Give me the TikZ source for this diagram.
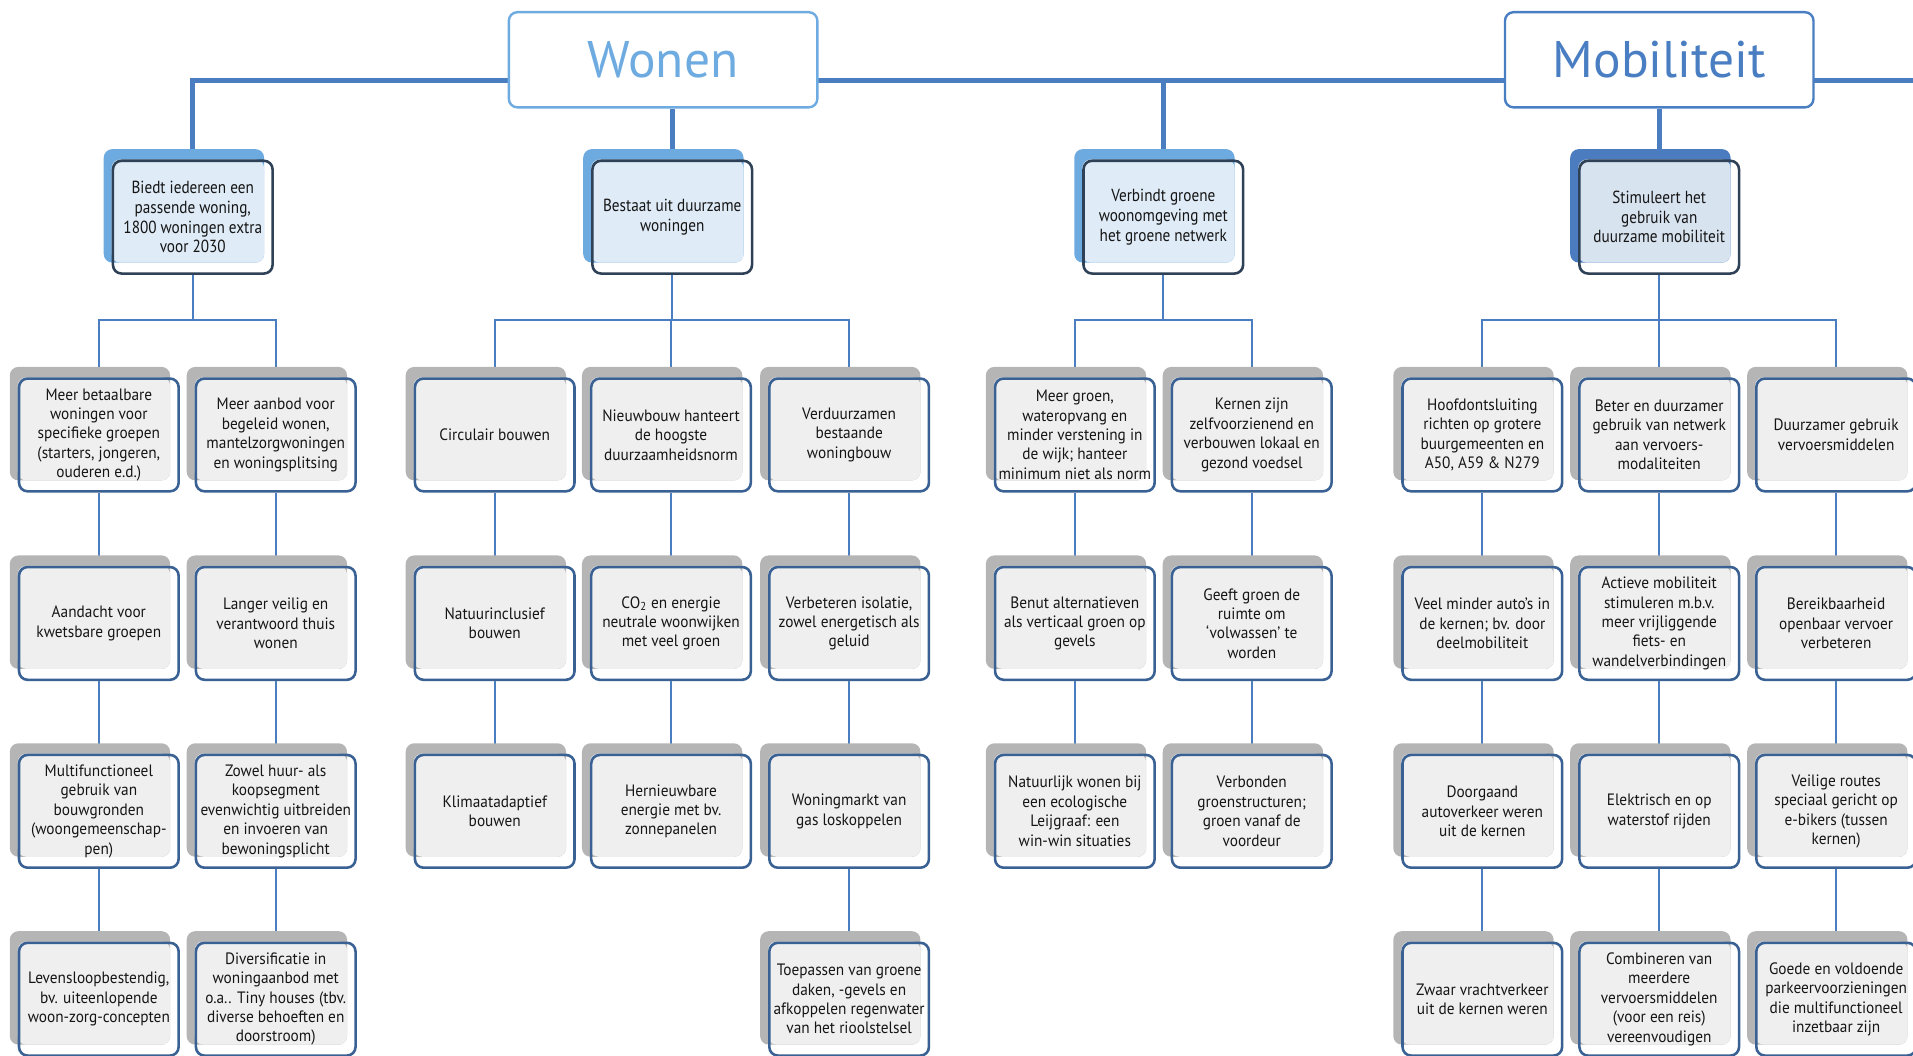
\documentclass[tikz,border=0pt]{standalone}
\usepackage{fontspec}
\setmainfont{PT Sans}
\newfontfamily\bladfont[FakeStretch=0.93]{PT Sans}
\newfontfamily\doelfont[FakeStretch=0.87]{PT Sans}
\usetikzlibrary{backgrounds}

\definecolor{lijnblauw}{HTML}{4A7EC0}
\definecolor{wonenblauw}{HTML}{6EABE0}
\definecolor{mobblauw}{HTML}{4A7EC2}
\definecolor{doelrand}{HTML}{2F4157}
\definecolor{bladrand}{HTML}{3A6194}
\definecolor{tabblauw}{HTML}{6DAADF}
\definecolor{tabdonker}{HTML}{4A7CBF}
\definecolor{vullicht}{HTML}{DFEBF6}
\definecolor{vulmob}{HTML}{D8E3F0}
\definecolor{tabgrijs}{HTML}{B5B5B5}
\definecolor{vulgrijs}{HTML}{EFEFEF}
\definecolor{tekst}{HTML}{151515}

\tikzset{
  titel/.style={draw, line width=1.4pt, rounded corners=5pt, fill=white,
    minimum width=6.32cm, minimum height=1.95cm, font=\fontsize{30}{30}\selectfont},
  doel/.style={draw=doelrand, line width=1.5pt, rounded corners=5pt,
    minimum width=3.27cm, minimum height=2.31cm, align=center, inner sep=1pt,
    text=tekst, font=\doelfont\fontsize{10.2}{11.4}\selectfont},
  blad/.style={doel, draw=bladrand, font=\bladfont\fontsize{9.6}{11.3}\selectfont},
  stam/.style={lijnblauw, line width=2.8pt},
  tak/.style={lijnblauw, line width=1.1pt},
}

% kaart: achterste tab + vulling onder een knoop
\newcommand\kaart[3]{%
  \fill[white, opacity=.8, rounded corners=5pt] (#1.north west) rectangle (#1.south east);
  \fill[#2, rounded corners=5pt] ([shift={(-6.5,-8.5)}]#1.north west) rectangle ([shift={(-8,-10)}]#1.south east);
  \fill[#3, rounded corners=5pt] (#1.north west) rectangle ([shift={(-8,-10)}]#1.south east);
}

\begin{document}
\begin{tikzpicture}[x=0.025cm, y=-0.025cm]
    \useasboundingbox (0,0) rectangle (1568,865);

    \node[titel, draw=wonenblauw, text=wonenblauw] (wonen) at (543.5,49) {Wonen};
    \node[titel, draw=mobblauw, text=mobblauw] (mobiliteit) at (1360,49) {Mobiliteit};

    \node[doel] (doel1) at (158,178) {Biedt iedereen een\\passende woning,\\1800 woningen extra\\voor 2030};
    \node[doel] (doel2) at (551,178) {Bestaat uit duurzame\\woningen};
    \node[doel] (doel3) at (953.5,178) {Verbindt groene\\woonomgeving met\\het groene netwerk};
    \node[doel] (doel4) at (1360,178) {Stimuleert het\\gebruik van\\duurzame mobiliteit};

    % Wonen
    \node[blad] (a1) at (81,356.5) {Meer betaalbare\\woningen voor\\specifieke groepen\\(starters, jongeren,\\ouderen e.d.)};
    \node[blad] (a2) at (81,511) {Aandacht voor\\kwetsbare groepen};
    \node[blad] (a3) at (81,665) {Multifunctioneel\\gebruik van\\bouwgronden\\(woongemeenschap-\\pen)};
    \node[blad] (a4) at (81,819) {Levensloopbestendig,\\bv. uiteenlopende\\woon-zorg-concepten};
    \node[blad] (b1) at (226,356.5) {Meer aanbod voor\\begeleid wonen,\\mantelzorgwoningen\\en woningsplitsing};
    \node[blad] (b2) at (226,511) {Langer veilig en\\verantwoord thuis\\wonen};
    \node[blad] (b3) at (226,665) {Zowel huur- als\\koopsegment\\evenwichtig uitbreiden\\en invoeren van\\bewoningsplicht};
    \node[blad] (b4) at (226,819) {Diversificatie in\\woningaanbod met\\o.a.. Tiny houses (tbv.\\diverse behoeften en\\doorstroom)};

    \node[blad] (c1) at (405.5,356.5) {Circulair bouwen};
    \node[blad] (c2) at (405.5,511) {Natuurinclusief\\bouwen};
    \node[blad] (c3) at (405.5,665) {Klimaatadaptief\\bouwen};
    \node[blad] (d1) at (550,356.5) {Nieuwbouw hanteert\\de hoogste\\duurzaamheidsnorm};
    \node[blad] (d2) at (550,511) {CO\textsubscript{2} en energie\\neutrale woonwijken\\met veel groen};
    \node[blad] (d3) at (550,665) {Hernieuwbare\\energie met bv.\\zonnepanelen};
    \node[blad] (e1) at (696,356.5) {Verduurzamen\\bestaande\\woningbouw};
    \node[blad] (e2) at (696,511) {Verbeteren isolatie,\\zowel energetisch als\\geluid};
    \node[blad] (e3) at (696,665) {Woningmarkt van\\gas loskoppelen};
    \node[blad] (e4) at (696,819) {Toepassen van groene\\daken, -gevels en\\afkoppelen regenwater\\van het rioolstelsel};

    \node[blad] (f1) at (881,356.5) {Meer groen,\\wateropvang en\\minder verstening in\\de wijk; hanteer\\minimum niet als norm};
    \node[blad] (f2) at (881,511) {Benut alternatieven\\als verticaal groen op\\gevels};
    \node[blad] (f3) at (881,665) {Natuurlijk wonen bij\\een ecologische\\Leijgraaf: een\\win-win situaties};
    \node[blad] (g1) at (1026,356.5) {Kernen zijn\\zelfvoorzienend en\\verbouwen lokaal en\\gezond voedsel};
    \node[blad] (g2) at (1026,511) {Geeft groen de\\ruimte om\\‘volwassen’ te\\worden};
    \node[blad] (g3) at (1026,665) {Verbonden\\groenstructuren;\\groen vanaf de\\voordeur};

    % Mobiliteit
    \node[blad] (h1) at (1215,356.5) {Hoofdontsluiting\\richten op grotere\\buurgemeenten en\\A50, A59 \& N279};
    \node[blad] (h2) at (1215,511) {Veel minder auto’s in\\de kernen; bv. door\\deelmobiliteit};
    \node[blad] (h3) at (1215,665) {Doorgaand\\autoverkeer weren\\uit de kernen};
    \node[blad] (h4) at (1215,819) {Zwaar vrachtverkeer\\uit de kernen weren};
    \node[blad] (i1) at (1360,356.5) {Beter en duurzamer\\gebruik van netwerk\\aan vervoers-\\modaliteiten};
    \node[blad] (i2) at (1360,511) {Actieve mobiliteit\\stimuleren m.b.v.\\meer vrijliggende\\fiets- en\\wandelverbindingen};
    \node[blad] (i3) at (1360,665) {Elektrisch en op\\waterstof rijden};
    \node[blad] (i4) at (1360,819) {Combineren van\\meerdere\\vervoersmiddelen\\(voor een reis)\\vereenvoudigen};
    \node[blad] (j1) at (1505,356.5) {Duurzamer gebruik\\vervoersmiddelen};
    \node[blad] (j2) at (1505,511) {Bereikbaarheid\\openbaar vervoer\\verbeteren};
    \node[blad] (j3) at (1505,665) {Veilige routes\\speciaal gericht op\\e-bikers (tussen\\kernen)};
    \node[blad] (j4) at (1505,819) {Goede en voldoende\\parkeervoorzieningen\\die multifunctioneel\\inzetbaar zijn};

    \coordinate (stamlijn) at (0,66);
    \coordinate (rand) at (1568,66);
    \coordinate (taklijn) at (0,262);

    \begin{scope}[on background layer]
      \draw[stam] (doel1.north) |- (rand);
      \draw[stam] (doel3.north) -- (doel3.north |- stamlijn);
      \draw[stam] (wonen.south -| doel2.north) -- (doel2.north);
      \draw[stam] (mobiliteit) -- (doel4);

      \draw[tak] (doel1.south) -- (doel1.south |- taklijn);
      \draw[tak] (a1.north) |- (b1.north |- taklijn) -- (b1.north);
      \draw[tak] (doel2.south) -- (doel2.south |- taklijn);
      \draw[tak] (c1.north) |- (e1.north |- taklijn) -- (e1.north);
      \draw[tak] (d1.north) -- (d1.north |- taklijn);
      \draw[tak] (doel3.south) -- (doel3.south |- taklijn);
      \draw[tak] (f1.north) |- (g1.north |- taklijn) -- (g1.north);
      \draw[tak] (doel4.south) -- (doel4.south |- taklijn);
      \draw[tak] (h1.north) |- (j1.north |- taklijn) -- (j1.north);
      \draw[tak] (i1.north) -- (i1.north |- taklijn);

      \foreach \p/\q in {a1/a2,a2/a3,a3/a4,b1/b2,b2/b3,b3/b4,c1/c2,c2/c3,d1/d2,d2/d3,
                         e1/e2,e2/e3,e3/e4,f1/f2,f2/f3,g1/g2,g2/g3,
                         h1/h2,h2/h3,h3/h4,i1/i2,i2/i3,i3/i4,j1/j2,j2/j3,j3/j4}
        \draw[tak] (\p) -- (\q);
    \end{scope}

    \begin{scope}[on background layer]
      \foreach \n in {a1,a2,a3,a4,b1,b2,b3,b4,c1,c2,c3,d1,d2,d3,e1,e2,e3,e4,
                      f1,f2,f3,g1,g2,g3,h1,h2,h3,h4,i1,i2,i3,i4,j1,j2,j3,j4}
        {\kaart{\n}{tabgrijs}{vulgrijs}}
      \foreach \n in {doel1,doel2,doel3}
        {\kaart{\n}{tabblauw}{vullicht}}
      \kaart{doel4}{tabdonker}{vulmob}
    \end{scope}
\end{tikzpicture}
\end{document}
